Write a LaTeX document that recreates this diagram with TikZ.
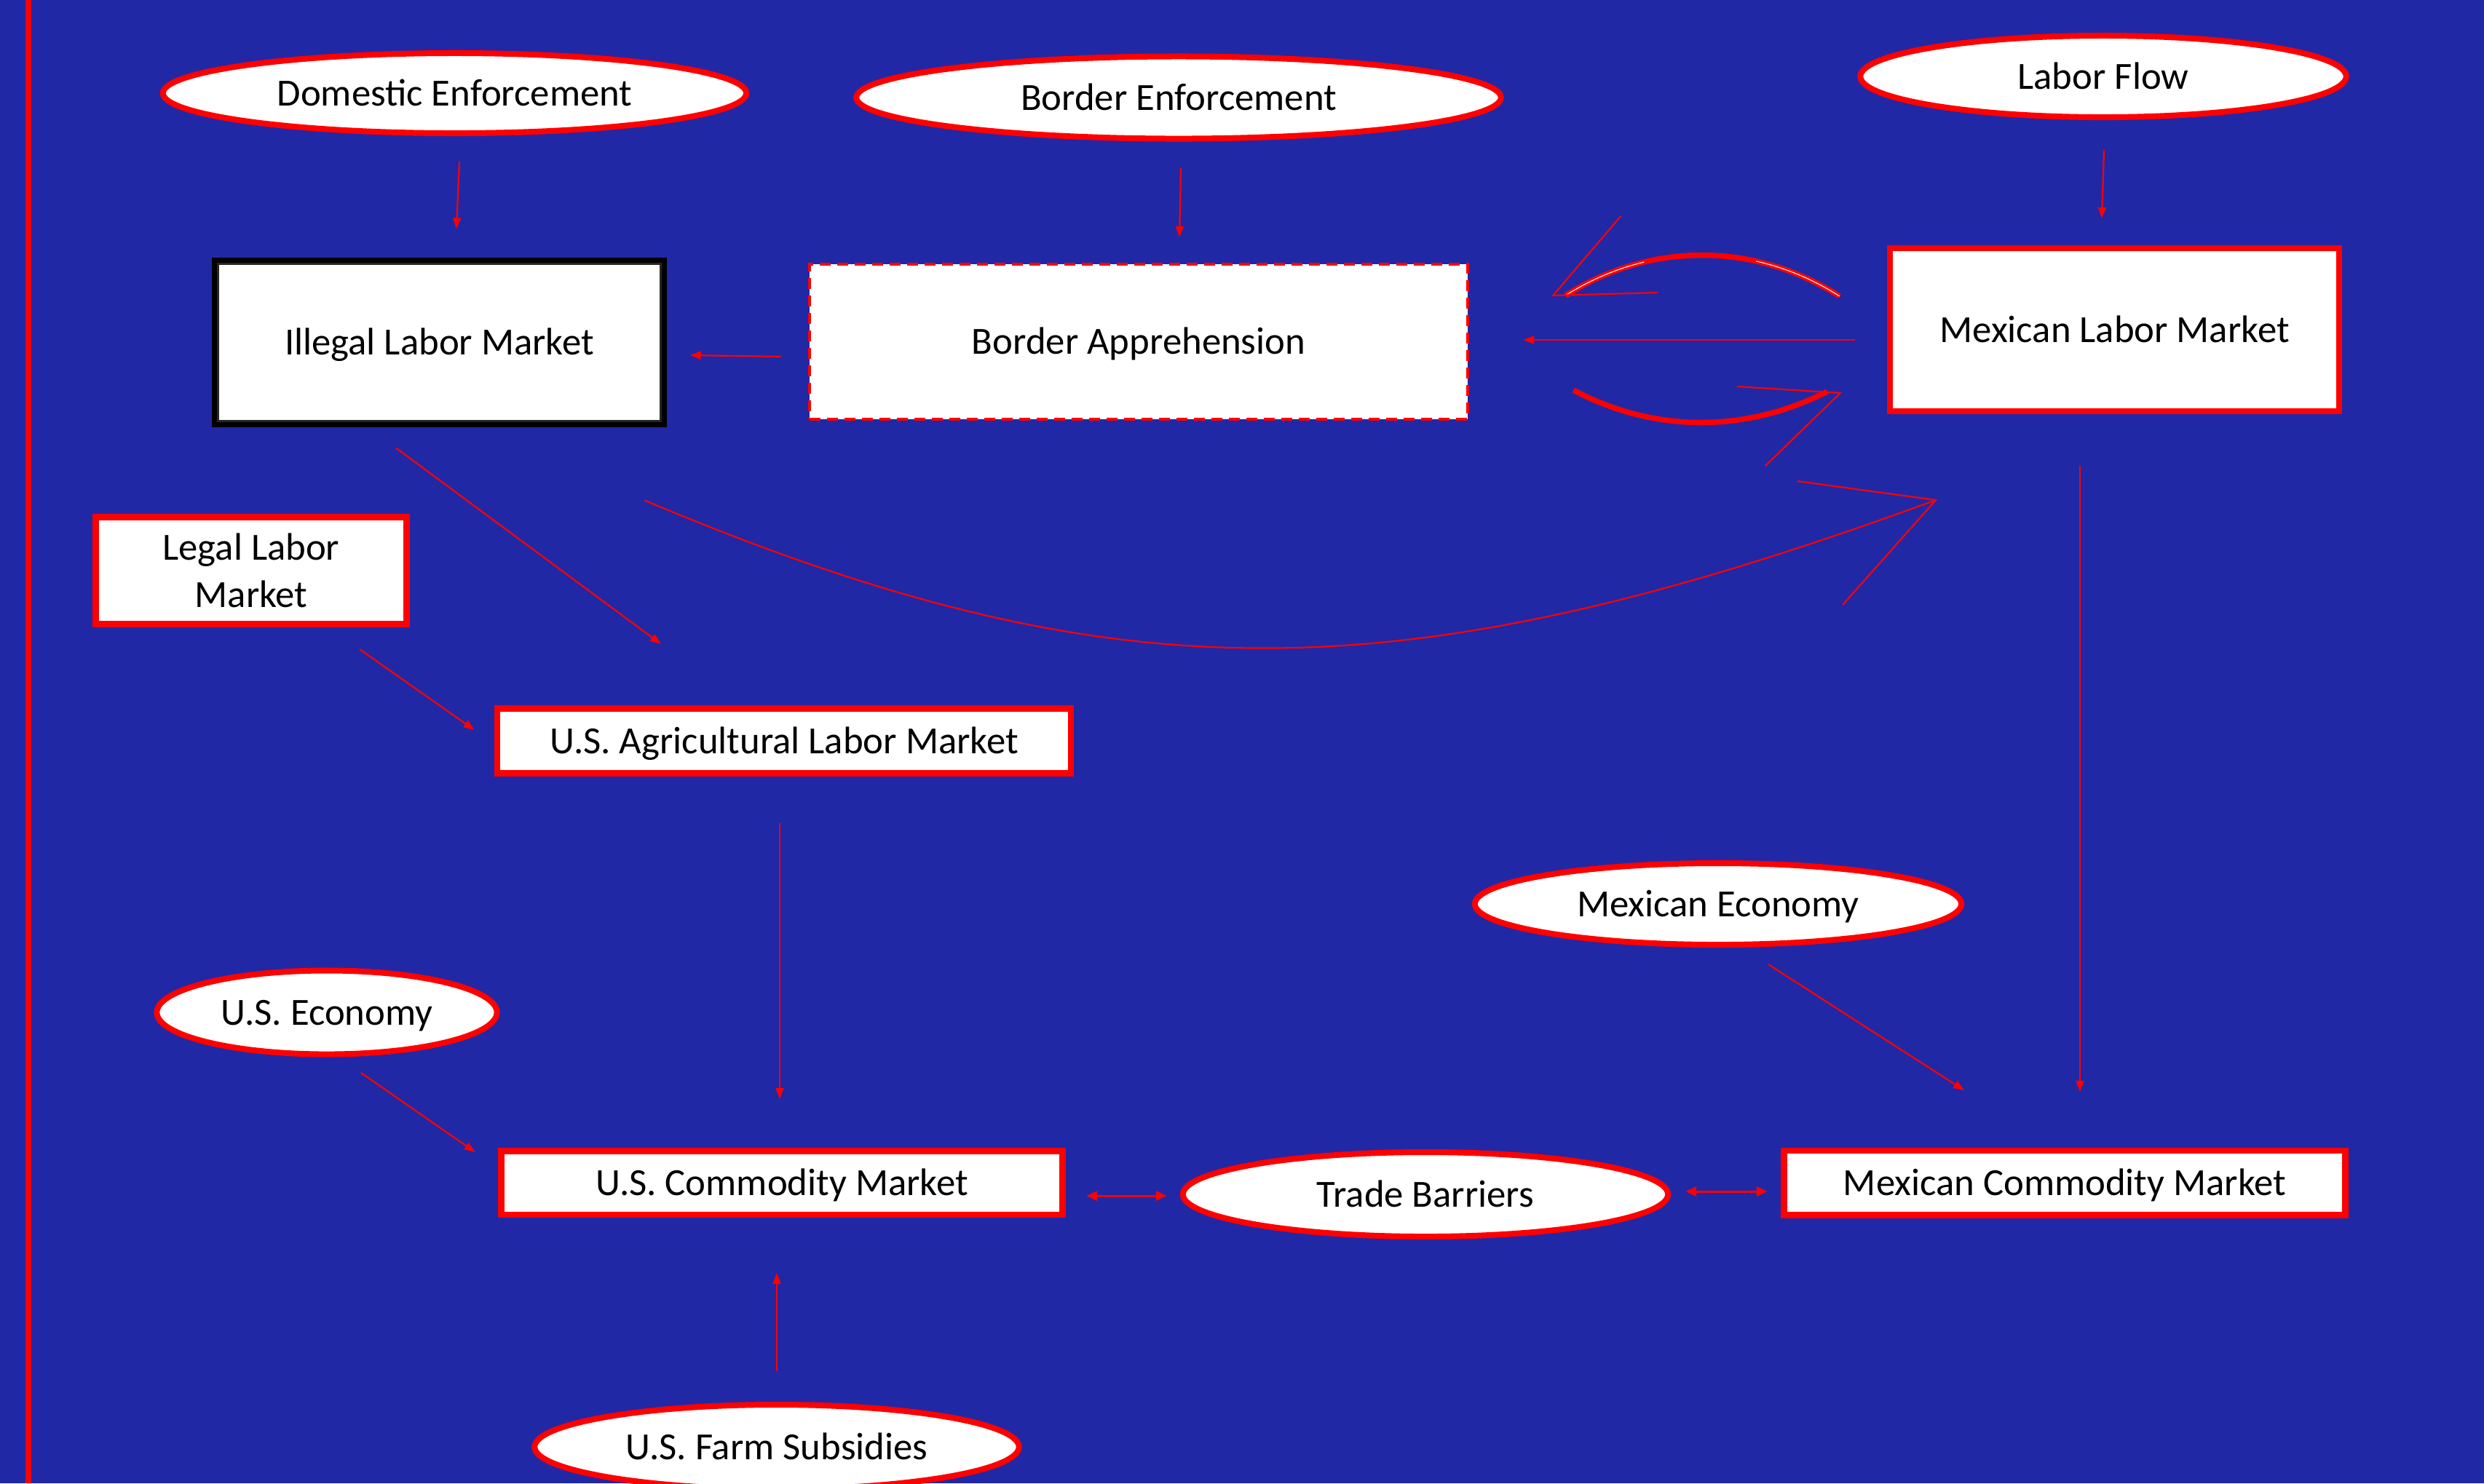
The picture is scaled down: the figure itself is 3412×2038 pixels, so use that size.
\documentclass[tikz,border=0pt]{standalone}
\usepackage{fontspec}
\setmainfont{Carlito}
\usetikzlibrary{shapes.geometric,arrows.meta,calc}
\definecolor{bgblue}{RGB}{32,40,166}
\definecolor{mred}{RGB}{255,0,0}
\begin{document}
\begin{tikzpicture}[x=0.01cm, y=-0.01cm, font=\fontsize{15}{18.4}\selectfont,
  txt/.style={text height=0.34cm, text depth=0pt},
  ell/.style={ellipse, draw=mred, line width=0.08cm, fill=white, inner sep=0pt, txt},
  rboxbase/.style={rectangle, draw=mred, line width=0.08cm, fill=white, inner sep=0pt, align=center},
  rbox/.style={rboxbase, txt},
  bbox/.style={rectangle, draw=black, line width=0.09cm, fill=white, inner sep=0pt, txt},
  dbox/.style={rectangle, draw=mred, line width=0.04cm, dash pattern=on 0.15cm off 0.09cm, fill=white, inner sep=0pt, txt},
  arr/.style={draw=mred, line width=0.022cm, -{Triangle[length=0.15cm,width=0.11cm]}},
  darr/.style={draw=mred, line width=0.03cm, {Triangle[length=0.15cm,width=0.13cm]}-{Triangle[length=0.15cm,width=0.13cm]}},
  vline/.style={draw=mred, line width=0.022cm}]
\useasboundingbox (0,0) rectangle (3412,2038);
\clip (0,0) rectangle (3412,2038);
\fill[bgblue] (0,0) rectangle (3412,2038);
\draw[mred, line width=0.08cm] (39,0) -- (39,2038);

% ellipses
\node[ell, minimum width=8.01cm, minimum height=1.10cm] (de) at (624.5,128) {Domestic Enforcement};
\node[ell, minimum width=8.85cm, minimum height=1.13cm] (be) at (1619,134) {Border Enforcement};
\node[ell, minimum width=6.67cm, minimum height=1.12cm] (lf) at (2889,105) {Labor Flow};
\node[ell, minimum width=6.68cm, minimum height=1.12cm] (mxe) at (2360,1242) {Mexican Economy};
\node[ell, minimum width=4.67cm, minimum height=1.15cm] (use) at (449,1391) {U.S. Economy};
\node[ell, minimum width=6.66cm, minimum height=1.16cm] (tb) at (1958,1641) {Trade Barriers};
\node[ell, minimum width=6.65cm, minimum height=1.16cm] (fs) at (1067,1988) {U.S. Farm Subsidies};

% boxes
\node[bbox, minimum width=6.16cm, minimum height=2.24cm] (ilm) at (603.5,470.5) {Illegal Labor Market};
\node[dbox, minimum width=9.04cm, minimum height=2.13cm] (ba) at (1564,469.5) {Border Apprehension};
\node[rbox, minimum width=6.17cm, minimum height=2.24cm] (mlm) at (2904.5,453) {Mexican Labor Market};
\node[rboxbase, minimum width=4.27cm, minimum height=1.47cm] (lel) at (345,784) {Legal Labor\\Market};
\node[rbox, minimum width=7.88cm, minimum height=0.89cm] (usag) at (1077,1018) {U.S. Agricultural Labor Market};
\node[rbox, minimum width=7.71cm, minimum height=0.88cm] (uscm) at (1074,1625) {U.S. Commodity Market};
\node[rbox, minimum width=7.71cm, minimum height=0.89cm] (mxcm) at (2836,1625) {Mexican Commodity Market};

% inner frame lines
\foreach \n in {mlm,lel,usag,uscm,mxcm}
  \draw[mred, line width=0.02cm] ($(\n.north west)+(7.5,7.5)$) rectangle ($(\n.south east)+(-7.5,-7.5)$);
\draw[black!85, line width=0.025cm] ($(ilm.north west)+(8.5,8.5)$) rectangle ($(ilm.south east)+(-8.5,-8.5)$);

% straight connectors
\draw[arr] ($(de.south)+(6.5,35)$) -- ($(ilm.north)+(23.5,-39.5)$);
\draw[arr] ($(be.south)+(3,36.5)$) -- ($(ba.north)+(56,-35)$);
\draw[arr] ($(lf.south)+(1,41)$) -- ($(mlm.north)+(-17.5,-37)$);
\draw[arr] ($(ba.west)+(-37,20.5)$) -- ($(ilm.east)+(31.5,17.5)$);
\draw[arr] ($(mlm.west)+(-44,14)$) -- ($(ba.east)+(74,-2.5)$);
\draw[arr] ($(ilm.south)+(-59.5,28.5)$) -- ($(usag.north)+(-169,-84.5)$);
\draw[arr] ($(lel.south)+(149,30.5)$) -- ($(usag.west)+(-27,-15)$);
\draw[arr] ($(usag.south)+(-6,64.5)$) -- ($(uscm.north)+(-3,-67)$);
\draw[arr] ($(use.south)+(47,21.5)$) -- ($(uscm.west)+(-31.5,-42)$);
\draw[arr] ($(fs.north)+(0,-42)$) -- ($(uscm.south)+(-7,76)$);
\draw[arr] ($(mxe.south)+(69,23)$) -- ($(mxcm.north)+(-138,-78.5)$);
\draw[arr] ($(mlm.south)+(-47.5,71)$) -- ($(mxcm.north)+(21,-76.5)$);
\draw[darr] ($(uscm.east)+(28.5,18)$) -- ($(tb.west)+(-18,2)$);
\draw[darr] ($(tb.east)+(20,-4)$) -- ($(mxcm.west)+(-18.5,12)$);

% loop arcs between Mexican Labor Market and Border Apprehension
\coordinate (ua1) at ($(mlm.west)+(-65,-46)$);
\coordinate (ua2) at ($(ba.east)+(132,-63.5)$);
\coordinate (uat) at ($(ua2)+(-17,0)$);
\draw[mred, line width=0.075cm] (ua1) .. controls +(-117,-75) and +(117,-74) .. (ua2);
\draw[white, line width=0.01cm, dash pattern=on 1.25cm off 1.55cm on 1.3cm] (ua1) .. controls +(-117,-75) and +(117,-74) .. (ua2);
\draw[vline] ($(uat)+(93,-109)$) -- (uat) -- ($(uat)+(144,-4)$);

\coordinate (la1) at ($(ba.east)+(143,66.5)$);
\coordinate (la2) at ($(mlm.west)+(-82,85)$);
\coordinate (lat) at ($(la2)+(18,2)$);
\draw[mred, line width=0.075cm] (la1) .. controls +(111,59) and +(-112,57) .. (la2);
\draw[vline] ($(lat)+(-142,-9)$) -- (lat) -- ($(lat)+(-103,100)$);

% big curve from Illegal Labor Market to Mexican Labor Market
\coordinate (bc1) at ($(ilm.south east)+(-30.5,100.5)$);
\coordinate (bc2) at ($(mlm.south)+(-245.5,118)$);
\draw[vline] (bc1) .. controls +(644,271) and +(-740,271) .. (bc2);
\draw[vline] ($(bc2)+(-190,-26)$) -- (bc2) -- ($(bc2)+(-128,144)$);
\end{tikzpicture}
\end{document}
